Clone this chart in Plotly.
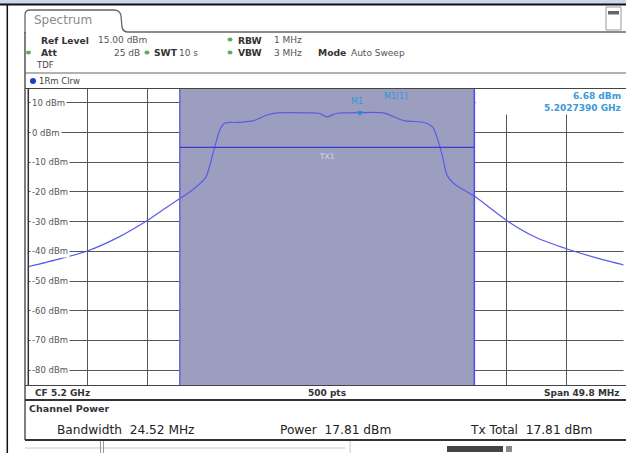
import plotly.graph_objects as go

# ---------------- data ----------------
CENTER_MHZ = 5200.0
SPAN_MHZ = 49.8
REF_LEVEL = 15.0
RANGE_DB = 100.0
CHANNEL_BW_MHZ = 24.52
TX_LEVEL = -5.0
MARKER_FREQ_MHZ = 5202.739
MARKER_LEVEL = 6.68
Y_TICKS = [10, 0, -10, -20, -30, -40, -50, -60, -70, -80]

freq_mhz = [5175.1, 5177.5, 5180.1, 5182.6, 5185.0, 5186.5, 5187.9, 5188.9, 5189.9,
            5190.6, 5191.1, 5191.5, 5192.5, 5193.9, 5195.0, 5195.9, 5198.5, 5199.3,
            5200.0, 5200.8, 5201.6, 5202.7, 5204.7, 5206.4, 5208.1, 5208.8, 5209.2,
            5209.6, 5210.0, 5210.6, 5211.5, 5212.4, 5215.1, 5217.5, 5220.0, 5222.5, 5224.9]
level_dbm = [-45.2, -42.8, -39.8, -35.3, -29.7, -25.6, -21.8, -19.0, -15.1,
             -5.5, 1.2, 3.2, 3.4, 4.0, 5.9, 6.6, 6.6, 6.5,
             5.3, 6.5, 6.6, 6.68, 6.6, 4.0, 3.4, 1.8, -2.2,
             -7.8, -14.5, -17.3, -19.6, -21.8, -30.0, -35.5, -39.2, -42.3, -44.8]

header_labels = ["Ref Level", "Att", "SWT", "RBW", "VBW", "Mode"]
header_values = ["15.00 dBm", "25 dB", "10 s", "1 MHz", "3 MHz", "Auto Sweep"]

W, H = 626, 453
FONT = "DejaVu Sans"
PL, PR, PT, PB = 28, 626, 88, 385


def X(p):
    return p / W


def Y(p):
    return 1 - p / H


x_lo = CENTER_MHZ - SPAN_MHZ / 2
x_hi = CENTER_MHZ + SPAN_MHZ / 2
y_lo = REF_LEVEL - RANGE_DB
y_hi = REF_LEVEL
ch_lo = CENTER_MHZ - CHANNEL_BW_MHZ / 2
ch_hi = CENTER_MHZ + CHANNEL_BW_MHZ / 2


def dx(p):  # pixel -> data x
    return x_lo + (p - PL) / (PR - PL) * SPAN_MHZ


def dy(p):  # pixel -> data y
    return y_hi - (p - PT) / (PB - PT) * RANGE_DB


fig = go.Figure()

fig.add_trace(go.Scatter(
    x=freq_mhz, y=level_dbm, mode="lines",
    line=dict(color="#5a5ae6", width=1.2, shape="spline", smoothing=0.7),
    hoverinfo="skip"))
fig.add_trace(go.Scatter(
    x=[MARKER_FREQ_MHZ], y=[MARKER_LEVEL], mode="markers",
    marker=dict(symbol="triangle-down", size=6, color="#1e8fd8"),
    hoverinfo="skip"))

shapes = []
# channel shading
shapes.append(dict(type="rect", xref="x", yref="y", x0=ch_lo, x1=ch_hi, y0=y_lo, y1=y_hi,
                   fillcolor="#9c9ec0", line=dict(width=0), layer="between"))
# marker readout white box
shapes.append(dict(type="rect", xref="x", yref="y", x0=dx(475.5), x1=x_hi, y0=dy(114.5), y1=y_hi,
                   fillcolor="white", line=dict(width=0), layer="between"))
# channel borders
for xv, col in [(ch_lo, "#6a6ad8"), (ch_hi, "#5050ee")]:
    shapes.append(dict(type="line", xref="x", yref="y", x0=xv, x1=xv, y0=y_lo, y1=y_hi,
                       line=dict(color=col, width=1.6), layer="above"))
# TX line
shapes.append(dict(type="line", xref="x", yref="y", x0=ch_lo, x1=ch_hi, y0=TX_LEVEL, y1=TX_LEVEL,
                   line=dict(color="#3a3ad4", width=1.2), layer="above"))


def pline(x0, y0, x1, y1, color="#333", width=1.0):
    shapes.append(dict(type="line", xref="paper", yref="paper", x0=X(x0), y0=Y(y0), x1=X(x1), y1=Y(y1),
                       line=dict(color=color, width=width), layer="above"))


def prect(x0, y0, x1, y1, fill, line_color=None, lw=0):
    shapes.append(dict(type="rect", xref="paper", yref="paper", x0=X(x0), y0=Y(y1), x1=X(x1), y1=Y(y0),
                       fillcolor=fill, line=dict(color=line_color or fill, width=lw), layer="above"))


# right-edge cleanup strip (diagnostic / cover)
prect(623.5, 5.5, 626, 453, "white")

# outer chrome
prect(0, 0, 626, 4, "#c9d8ef")
pline(0, 4.5, 626, 4.5, "#111", 2)
pline(7.3, 4, 7.3, 453, "#111", 1.5)

# tab
tab_pts = "M{},{} L{},{} Q{},{} {},{} L{},{} Q{},{} {},{} L{},{} Q{},{} {},{} L{},{}".format(
    X(25), Y(33), X(25), Y(15), X(25), Y(10), X(30), Y(10), X(114), Y(10),
    X(120), Y(10), X(121), Y(16), X(122), Y(27), X(123), Y(32), X(128), Y(32), X(626), Y(32))
shapes.append(dict(type="path", xref="paper", yref="paper", path=tab_pts,
                   line=dict(color="#666", width=1.3), layer="above"))

# top right icon
shapes.append(dict(type="rect", xref="paper", yref="paper", x0=X(606), x1=X(621), y0=Y(30), y1=Y(7),
                   fillcolor="white", line=dict(color="#999", width=1), layer="above"))
prect(608, 11, 619, 14.5, "#666")

# panel frames
pline(25, 32, 25, 440, "#555", 1.5)
pline(25, 73, 626, 73, "#666", 1.2)
pline(25, 88.5, 626, 88.5, "#444", 1.2)
pline(28.3, 88, 28.3, 385, "#333", 1.5)
pline(25, 385.5, 626, 385.5, "#444", 1.2)
pline(25, 400, 626, 400, "#333", 2)
pline(25, 440, 626, 440, "#333", 2)

# ghost UI below
pline(25, 448, 345, 448, "#c8c8c8", 1)
pline(100.5, 441, 100.5, 453, "#999", 1)
pline(103.5, 441, 103.5, 453, "#999", 1)
pline(350, 441, 350, 453, "#c8c8c8", 1)
prect(447, 446, 503, 452, "#444")
prect(506, 446, 512, 452, "#888")

# green status dots
for (cx, cy) in [(28.5, 52.5), (147, 52.5), (230, 39.5), (230, 52.5)]:
    shapes.append(dict(type="circle", xref="paper", yref="paper",
                       x0=X(cx - 2.5), x1=X(cx + 2.5), y0=Y(cy + 2), y1=Y(cy - 2),
                       fillcolor="#5fae5f", line=dict(width=0), layer="above"))
# trace dot
shapes.append(dict(type="circle", xref="paper", yref="paper",
                   x0=X(30), x1=X(36), y0=Y(84), y1=Y(78),
                   fillcolor="#1a3fd0", line=dict(width=0), layer="above"))

ann = []


def txt(x, y, s, size=9, color="#333", anchor="left", bold=False):
    ann.append(dict(x=X(x), y=Y(y), xref="paper", yref="paper",
                    text=("<b>%s</b>" % s if bold else s), showarrow=False,
                    xanchor=anchor, yanchor="middle",
                    font=dict(family=FONT, size=size, color=color)))


txt(32, 20, "Spectrum", size=12, color="#8a8a8a")

# header rows
txt(39, 40, header_labels[0], bold=True, size=9.2)
txt(96, 40, header_values[0], color="#555")
txt(39, 52.5, header_labels[1], bold=True, size=9.2)
txt(142, 52.5, header_values[1], color="#555", anchor="right")
txt(152, 52.5, header_labels[2], bold=True, size=9.2)
txt(177, 52.5, header_values[2], color="#555")
txt(236, 40, header_labels[3], bold=True, size=9.2)
txt(272, 40, header_values[3], color="#555")
txt(236, 52.5, header_labels[4], bold=True, size=9.2)
txt(272, 52.5, header_values[4], color="#555")
txt(316, 52.5, header_labels[5], bold=True, size=9.2)
txt(349, 52.5, header_values[5], color="#555")
txt(34, 65.5, "TDF", size=8.5, color="#444")
txt(37, 80.5, "1Rm Clrw", size=8.5, color="#444")

# y tick labels
for v in Y_TICKS:
    ann.append(dict(x=X(29.5), y=v, xref="paper", yref="y", text="%d dBm" % v, showarrow=False,
                    xanchor="left", yanchor="middle", bgcolor="white", borderpad=1,
                    font=dict(family=FONT, size=8.5, color="#555")))

# markers / tx labels
ann.append(dict(x=CENTER_MHZ, y=TX_LEVEL, xref="x", yref="y", yshift=-9, text="TX1", showarrow=False,
                font=dict(family=FONT, size=7.5, color="#d6d6e6")))
ann.append(dict(x=MARKER_FREQ_MHZ, y=MARKER_LEVEL, xref="x", yref="y", yshift=11, xshift=-3, text="M1",
                showarrow=False, font=dict(family=FONT, size=8, color="#2a9ad8")))
txt(395, 96.5, "M1[1]", size=8, color="#2a9ad8", anchor="center")
txt(623, 96.5, "%.2f dBm" % MARKER_LEVEL, size=9, color="#3a9ad9", anchor="right", bold=True)
txt(623, 107.5, "%.7f GHz" % (MARKER_FREQ_MHZ / 1000), size=9, color="#3a9ad9", anchor="right", bold=True)

# footer
txt(33, 392.5, "CF %.1f GHz" % (CENTER_MHZ / 1000), size=9, bold=True)
txt(327, 392.5, "500 pts", size=9, bold=True, anchor="center")
txt(622, 392.5, "Span %.1f MHz" % SPAN_MHZ, size=9, bold=True, anchor="right")
txt(27, 408.5, "Channel Power", size=9.5, bold=True)
txt(55, 430, "Bandwidth\u00a0\u00a0%.2f MHz" % CHANNEL_BW_MHZ, size=12.2, color="#222")
txt(278, 430, "Power\u00a0\u00a017.81 dBm", size=12.2, color="#222")
txt(468, 430, "Tx Total\u00a0\u00a017.81 dBm", size=12.2, color="#222")

fig.update_layout(
    width=W, height=H, margin=dict(l=0, r=0, t=0, b=0),
    paper_bgcolor="white", plot_bgcolor="white", showlegend=False,
    shapes=shapes, annotations=ann,
    xaxis=dict(domain=[X(PL), 1], range=[x_lo, x_hi - 0.01], tick0=x_lo, dtick=SPAN_MHZ / 10,
               showgrid=True, gridcolor="#555", gridwidth=1, showticklabels=False,
               zeroline=False, showline=False, ticks="", fixedrange=True),
    yaxis=dict(domain=[Y(PB), Y(PT)], range=[y_lo, y_hi], tick0=-80, dtick=10,
               showgrid=True, gridcolor="#555", gridwidth=1, showticklabels=False,
               zeroline=False, showline=False, ticks="", fixedrange=True),
)

fig.write_html("out.html", config={"staticPlot": True},
               post_script="document.body.style.margin='0';document.body.style.overflow='hidden';")
